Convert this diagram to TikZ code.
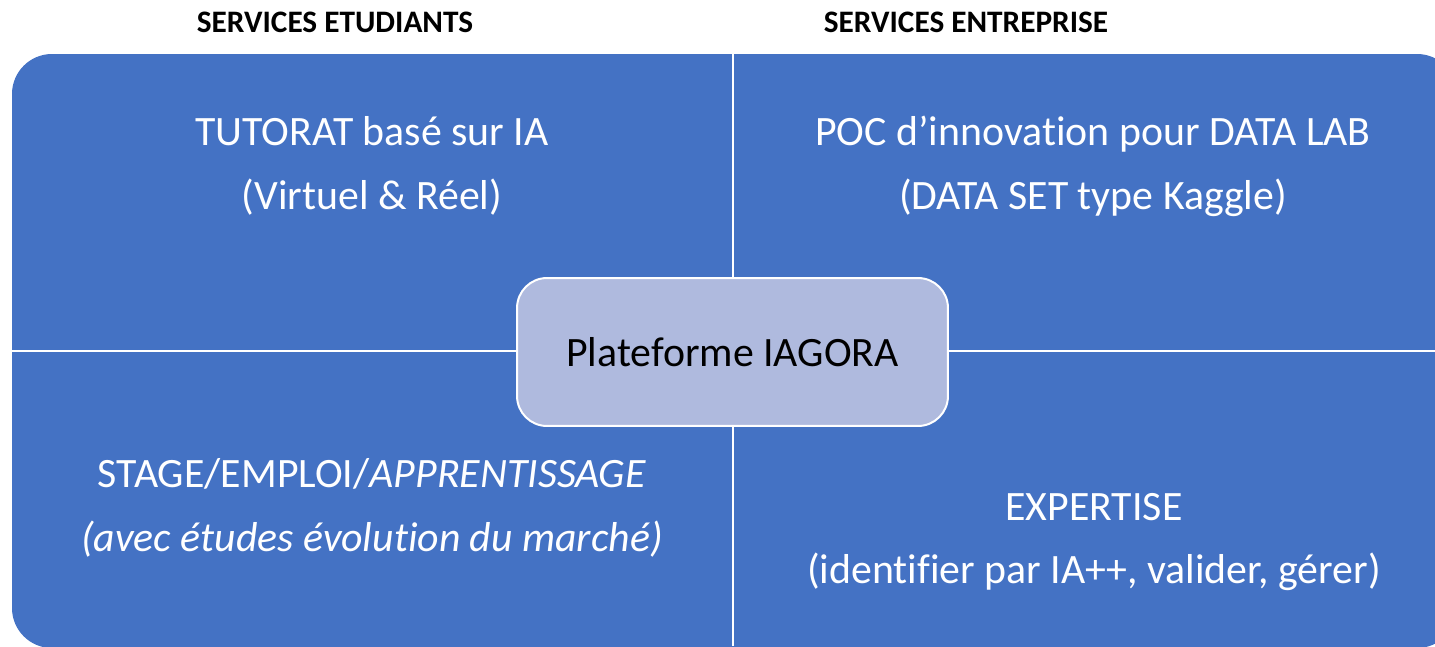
\documentclass[tikz,border=0pt]{standalone}
\usepackage{fontspec}
\setmainfont{Carlito}[Ligatures=NoCommon]
\usepackage{xcolor}
\usepackage{tikz}
\usetikzlibrary{positioning}
\definecolor{iablue}{HTML}{4472C4}
\definecolor{iacentre}{HTML}{AFBADE}
\def\quadfont{\fontsize{23.8}{36.3}\selectfont}

\begin{document}
\begin{tikzpicture}[x=0.02cm, y=-0.02cm,
    quadtext/.style={text=white, align=center, font=\quadfont, inner sep=0pt},
    header/.style={font=\fontsize{17.8}{20}\selectfont\bfseries, inner sep=0pt},
    centrebox/.style={draw=white, line width=0.04cm, fill=iacentre, rounded corners=0.6cm,
      minimum width=8.62cm, minimum height=2.96cm, font=\quadfont}]
          \useasboundingbox (0,0) rectangle (1435,646);
          % Blue matrix
          \begin{scope}
            \clip (0,0) rectangle (1435,646);
            \fill[iablue, rounded corners=0.8cm] (12,54) rectangle (1457,648);
          \end{scope}
          \coordinate (vtop) at (733,54);
          \coordinate (vbot) at (733,646);
          \coordinate (hleft) at (12,351);
          \coordinate (hright) at (1435,351);
          \draw[white, line width=0.04cm] (vtop) -- (vbot);
          \draw[white, line width=0.04cm] (hleft) -- (hright);
          % Headers
          \node[header] (etudiants) at (335,22) {SERVICES ETUDIANTS};
          \node[header] (entreprise) at (966,22) {SERVICES ENTREPRISE};
          % Quadrants
          \node[quadtext] (tutorat) at (372,166) {TUTORAT basé sur IA\\(Virtuel \& Réel)};
          \node[quadtext] (poc) at (1093,166) {POC d’innovation pour DATA LAB\\(DATA SET type Kaggle)};
          \node[quadtext] (stage) at (372,508) {STAGE/EMPLOI/\textit{APPRENTISSAGE}\\\textit{(avec études évolution du marché)}};
          \node[quadtext] (expertise) at (1094,542) {EXPERTISE\\(identifier par IA++, valider, gérer)};
          % Centre
          \node[centrebox] (plateforme) at (732.5,352) {Plateforme IAGORA};
        \end{tikzpicture}
\end{document}
